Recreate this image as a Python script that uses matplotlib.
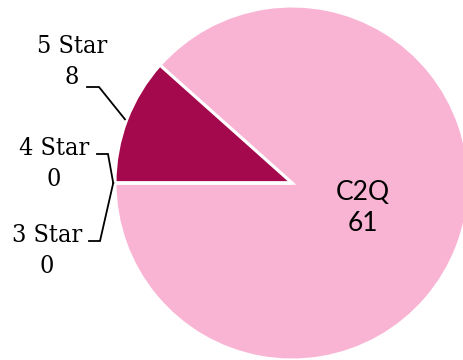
import matplotlib
matplotlib.use("Agg")
import matplotlib.pyplot as plt
import numpy as np

labels = ["C2Q", "5 Star", "4 Star", "3 Star"]
values = [61, 8, 0, 0]
colors = ["#F9B4D4", "#A3094C", "#7A0638", "#5A0428"]

W, H = 464, 360
CX, CY, R = 292, 183, 177


def px(x, y):
    # pixel coords (top-left origin) -> data coords
    return (x - CX) / R, (CY - y) / R


fig = plt.figure(figsize=(W / 100, H / 100), dpi=100)
ax = fig.add_axes([0, 0, 1, 1])
ax.axis("off")

wedges, _ = ax.pie(values, colors=colors, startangle=180, counterclock=True,
                   radius=1.0, center=(0, 0),
                   wedgeprops=dict(edgecolor="white", linewidth=2.2))
ax.set_xlim(-CX / R, (W - CX) / R)
ax.set_ylim(-(H - CY) / R, CY / R)
ax.set_aspect("auto")

# inner label for the big slice
tx, ty = px(363, 208)
ax.text(tx, ty, f"{labels[0]}\n{values[0]}", ha="center", va="center",
        fontsize=19, family="Lato", color="black", linespacing=1.3)

# outer labels: (text centre px, line start px, elbow px)
outer = {
    "5 Star": ((72, 62), (87, 87), (99, 87)),
    "4 Star": ((54, 164), (97, 154), (108, 154)),
    "3 Star": ((47, 251), (89, 241), (100, 241)),
}
for w, lab, val in zip(wedges[1:], labels[1:], values[1:]):
    (tcx, tcy), start, elbow = outer[lab]
    ang = np.deg2rad((w.theta1 + w.theta2) / 2)
    end = (1.01 * np.cos(ang), 1.01 * np.sin(ang))
    x0, y0 = px(*start)
    x1, y1 = px(*elbow)
    ax.plot([x0, x1, end[0]], [y0, y1, end[1]], color="black", lw=1.3,
            solid_joinstyle="miter")
    tx, ty = px(tcx, tcy)
    ax.text(tx, ty, f"{lab}\n{val}", ha="center", va="center",
            fontsize=18, family="DejaVu Serif", fontstretch="condensed",
            color="black", linespacing=1.4)

fig.savefig("out.png", dpi=100)
